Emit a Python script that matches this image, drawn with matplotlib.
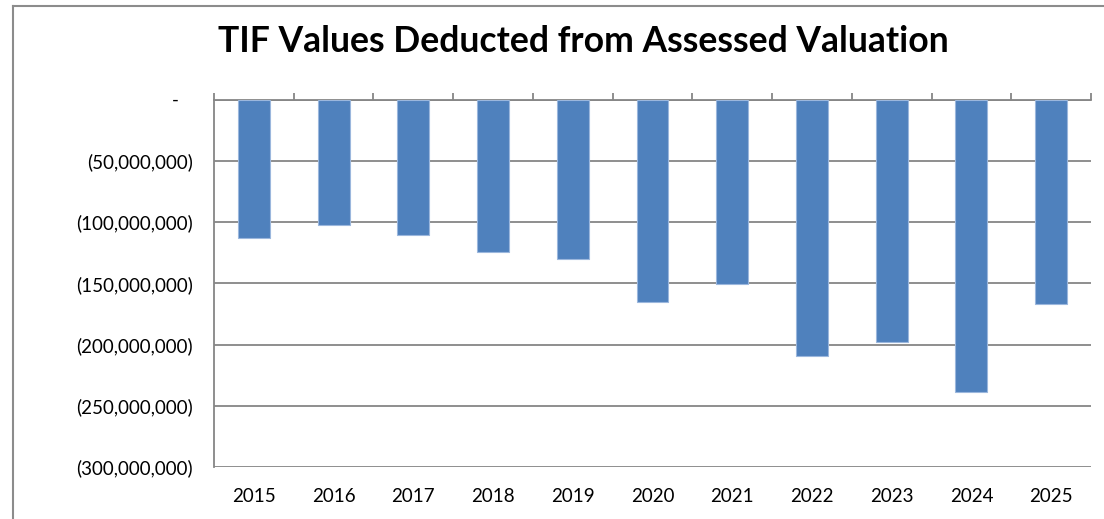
import numpy as np
import matplotlib.pyplot as plt
from matplotlib.lines import Line2D

years = ['2015', '2016', '2017', '2018', '2019', '2020', '2021', '2022', '2023', '2024', '2025']
tif_values = [-113300000, -102700000, -110900000, -124700000, -130400000, -165500000,
              -150800000, -209500000, -198100000, -238900000, -167100000]
y_ticks = [0, -50000000, -100000000, -150000000, -200000000, -250000000, -300000000]

plt.rcParams['font.family'] = ['Lato', 'DejaVu Sans']

fig = plt.figure(figsize=(11.04, 5.19), dpi=100)
ax = fig.add_axes([214 / 1104, 1 - 467 / 519, (1091 - 214) / 1104, (467 - 99.5) / 519])

x = np.arange(len(years))
ax.bar(x, tif_values, width=0.4, color='#4F81BD', edgecolor='#9BB7DD', linewidth=0.8, zorder=3)

ax.set_xlim(-0.5, len(years) - 0.5)
ax.set_ylim(-300000000, 0)

def fmt(v):
    if v == 0:
        return '-   '
    return '({:,.0f})'.format(-v)

ax.set_yticks(y_ticks)
ax.set_yticklabels([fmt(v) for v in y_ticks], fontsize=13.5)
ax.tick_params(axis='y', length=0, pad=15)
ax.yaxis.grid(True, color='#868686', linewidth=1.3, zorder=0)

ax.set_xticks(x)
ax.set_xticklabels(years, fontsize=13.5)
ax.set_xticks(np.arange(len(years) + 1) - 0.5, minor=True)
ax.tick_params(axis='x', which='major', length=0, pad=15)
ax.tick_params(axis='x', which='minor', bottom=False, top=True, direction='out',
               length=5, color='#868686', width=1.3)

for s in ['right', 'bottom']:
    ax.spines[s].set_visible(False)
for s in ['left', 'top']:
    ax.spines[s].set_color('#868686')
    ax.spines[s].set_linewidth(1.3)

fig.text(0.528, 1 - 41 / 519, 'TIF Values Deducted from Assessed Valuation',
         ha='center', va='center', fontsize=25.6, fontweight='bold')

# outer chart border (cropped on right and bottom)
fig.add_artist(Line2D([13 / 1104, 13 / 1104], [0, 1 - 6 / 519], color='#8c8c8c', linewidth=1.5))
fig.add_artist(Line2D([13 / 1104, 1], [1 - 6 / 519, 1 - 6 / 519], color='#8c8c8c', linewidth=1.5))

fig.savefig('out.png', dpi=100)
